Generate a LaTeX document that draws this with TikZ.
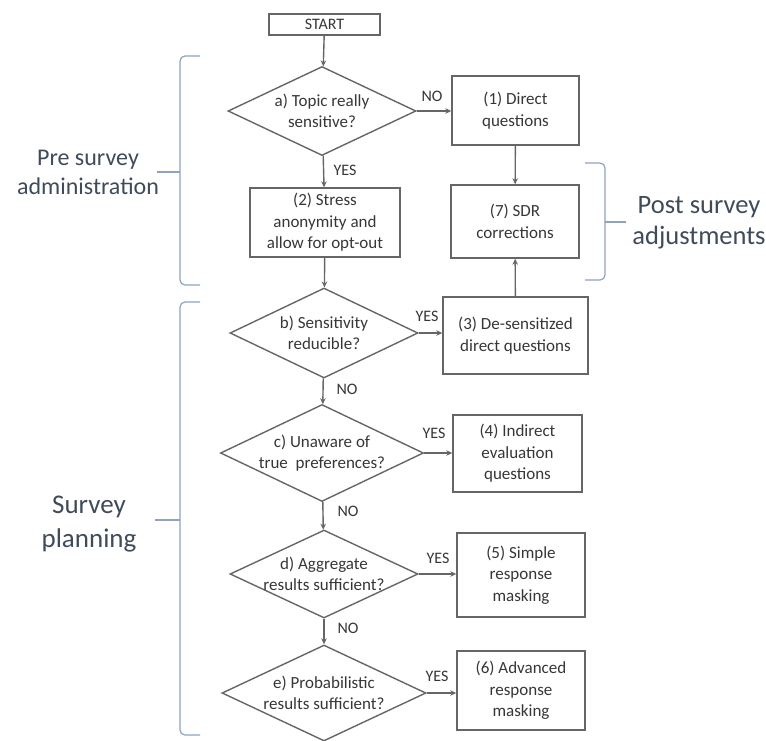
\documentclass[tikz,border=0pt]{standalone}
\usepackage{fontspec}
\setmainfont{Carlito}
\usetikzlibrary{shapes.geometric,arrows.meta}
\definecolor{txtc}{HTML}{363636}
\definecolor{linec}{HTML}{666666}
\definecolor{bracec}{HTML}{8FA3BF}
\definecolor{sidec}{HTML}{404B5A}
\begin{document}
\begin{tikzpicture}[x=1pt,y=-1pt,
  box/.style={draw=linec,line width=1.4pt,rectangle,inner sep=0pt,align=center,text=txtc,font=\fontsize{17}{21.5}\selectfont},
  dia/.style={draw=linec,line width=1.4pt,diamond,inner sep=0pt},
  dtxt/.style={align=center,text=txtc,font=\fontsize{17}{21.5}\selectfont,inner sep=0pt},
  lab/.style={text=txtc,font=\fontsize{16}{18}\selectfont,inner sep=0pt},
  arr/.style={draw=linec,line width=1.4pt,-{Stealth[length=6pt,width=5.5pt]}},
  brace/.style={draw=bracec,line width=1.2pt,rounded corners=5pt},
  side/.style={align=center,text=sidec,inner sep=0pt}]
\useasboundingbox (0,0) rectangle (766,740);
% boxes
\node[box,minimum width=111pt,minimum height=21pt,font=\fontsize{16}{18}\selectfont] (start) at (324.5,24.5) {START};
\node[box,minimum width=127pt,minimum height=69pt] (b1) at (515.5,110.5) {(1) Direct\\questions};
\node[box,minimum width=128pt,minimum height=73pt] (b7) at (515,221.5) {(7) SDR\\corrections};
\node[box,minimum width=150pt,minimum height=69pt] (b2) at (325,222.5) {(2) Stress\\anonymity and\\allow for opt-out};
\node[box,minimum width=145pt,minimum height=77pt] (b3) at (515.5,335.5) {(3) De-sensitized\\direct questions};
\node[box,minimum width=129pt,minimum height=77pt] (b4) at (517.5,453.5) {(4) Indirect\\evaluation\\questions};
\node[box,minimum width=128pt,minimum height=84pt] (b5) at (521,575) {(5) Simple\\response\\masking};
\node[box,minimum width=128pt,minimum height=79pt] (b6) at (521,690.5) {(6) Advanced\\response\\masking};
% diamonds
\node[dia,minimum width=188pt,minimum height=89pt] (da) at (322,111) {};
\node[dtxt] (ta) at (da) {a) Topic really\\sensitive?};
\node[dia,minimum width=188pt,minimum height=90pt] (db) at (324,333) {};
\node[dtxt] (tb) at (db) {b) Sensitivity\\reducible?};
\node[dia,minimum width=203pt,minimum height=97pt] (dc) at (322,453) {};
\node[dtxt] (tc) at (dc) {c) Unaware of\\true\ \ preferences?};
\node[dia,minimum width=188pt,minimum height=88pt] (dd) at (324,574) {};
\node[dtxt] (td) at (dd) {d) Aggregate\\results sufficient?};
\node[dia,minimum width=204pt,minimum height=96pt] (de) at (324,693) {};
\node[dtxt] (te) at (de) {e) Probabilistic\\results sufficient?};
% vertical flow
\draw[arr] (start) -- (da);
\draw[arr] (da) -- (b2);
\draw[arr] (b2) -- (db);
\draw[arr] (db) -- (dc);
\draw[arr] (dc) -- (dd);
\draw[arr] (dd) -- (de);
\draw[arr] (b1) -- (b7);
\draw[arr] (b3) -- (b7);
% horizontal
\draw[arr] (da.east) -- (da.east -| b1.west);
\draw[arr] (db.east) -- (db.east -| b3.west);
\draw[arr] (dc.east) -- (dc.east -| b4.west);
\draw[arr] (dd.east) -- (dd.east -| b5.west);
\draw[arr] (de.east) -- (de.east -| b6.west);
% labels
\node[lab] (l1) at (432,96) {NO};
\node[lab] (l2) at (345,170) {YES};
\node[lab] (l3) at (427,316) {YES};
\node[lab] (l4) at (347,389) {NO};
\node[lab] (l5) at (434,433) {YES};
\node[lab] (l6) at (348,511) {NO};
\node[lab] (l7) at (438,558) {YES};
\node[lab] (l8) at (348,628) {NO};
\node[lab] (l9) at (437,676) {YES};
% braces
\draw[brace] (200,56) -- (180,56) -- (180,285) -- (200,285);
\draw[draw=bracec,line width=1.2pt] (180,172) -- (157,172);
\draw[brace] (200,302) -- (180,302) -- (180,735) -- (200,735);
\draw[draw=bracec,line width=1.2pt] (180,520) -- (155,520);
\draw[brace] (585,163) -- (605,163) -- (605,280) -- (585,280);
\draw[draw=bracec,line width=1.2pt] (605,222) -- (626,222);
% side labels
\node[side,font=\fontsize{24}{29}\selectfont] (s1) at (88,172) {Pre survey\\administration};
\node[side,font=\fontsize{27}{34}\selectfont] (s2) at (89,524) {Survey\\planning};
\node[side,font=\fontsize{26.5}{31}\selectfont] (s3) at (699,223) {Post survey\\adjustments};
\end{tikzpicture}
\end{document}
